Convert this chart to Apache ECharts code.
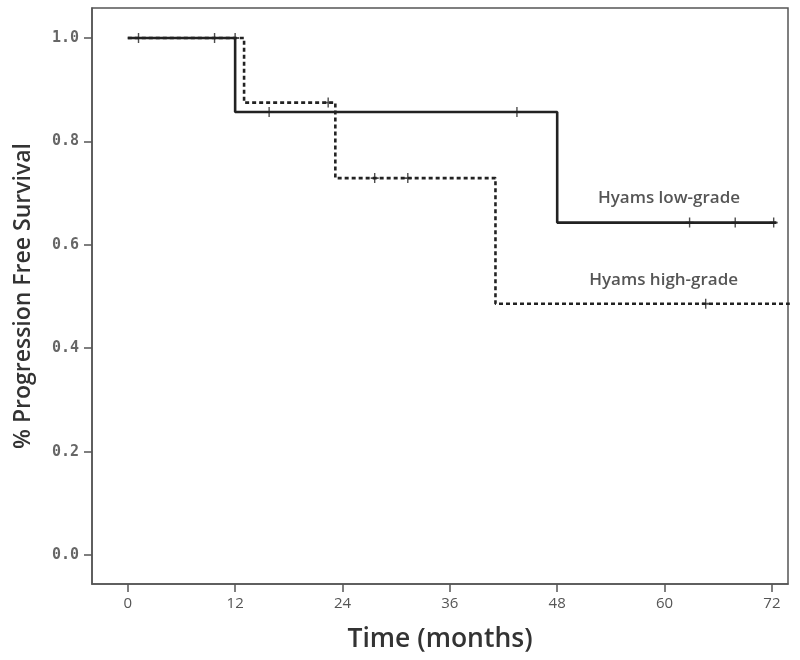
<!DOCTYPE html>
<html><head><meta charset="utf-8">
<script src="https://cdn.jsdelivr.net/npm/echarts@6/dist/echarts.min.js"></script>
<style>html,body{margin:0;padding:0;background:#fff}#c{width:800px;height:660px}</style>
</head><body><div id="c"></div>
<script>
// Kaplan-Meier steps: [month, survival]
const lowGradeSteps = [[0, 1.0], [12.0, 0.857], [48.0, 0.643], [72.5, 0.643]];
const highGradeSteps = [[0, 1.0], [13.0, 0.875], [23.2, 0.729], [41.1, 0.486], [74, 0.486]];
const lowGradeCensored = [[9.7, 1.0], [15.8, 0.857], [43.5, 0.857], [62.8, 0.643], [67.9, 0.643], [72.2, 0.643]];
const highGradeCensored = [[1.2, 1.0], [12.0, 1.0], [22.4, 0.875], [27.6, 0.729], [31.3, 0.729], [64.6, 0.486]];
const xTicks = [0, 12, 24, 36, 48, 60, 72];
const yTicks = [0, 0.2, 0.4, 0.6, 0.8, 1.0];
const seriesLabels = [
  { name: 'Hyams low-grade', pos: [60.5, 0.69] },
  { name: 'Hyams high-grade', pos: [59.9, 0.532] }
];

const chart = echarts.init(document.getElementById('c'), null, { renderer: 'canvas' });
const plus = 'path://M-0.7,-5L0.7,-5L0.7,-0.9L4,-0.9L4,0.9L0.7,0.9L0.7,5L-0.7,5L-0.7,0.9L-4,0.9L-4,-0.9L-0.7,-0.9Z';
chart.setOption({
  animation: false,
  backgroundColor: '#fff',
  grid: { left: 92, top: 8, right: 12, bottom: 76, show: true, borderColor: '#555', borderWidth: 1.5, backgroundColor: 'transparent', outerBoundsMode: 'none', containLabel: false },
  xAxis: {
    type: 'value', min: -4, max: 73.8,
    name: 'Time (months)', nameLocation: 'middle', nameGap: 42,
    nameTextStyle: { fontFamily: 'Open Sans', fontWeight: 600, fontSize: 26.5, color: '#333' },
    axisLine: { show: true, onZero: false, lineStyle: { color: '#555', width: 1.5 } },
    axisTick: { show: true, length: 8, customValues: xTicks, lineStyle: { color: '#555', width: 1.5 } },
    axisLabel: { customValues: xTicks, margin: 12, fontFamily: 'Open Sans', fontSize: 15, color: '#555' },
    splitLine: { show: false }
  },
  yAxis: {
    type: 'value', min: -0.056, max: 1.058,
    name: '% Progression Free Survival', nameLocation: 'middle', nameGap: 57, nameRotate: 90,
    nameTextStyle: { fontFamily: 'Open Sans', fontWeight: 600, fontSize: 23, color: '#333' },
    axisLine: { show: true, onZero: false, lineStyle: { color: '#555', width: 1.5 } },
    axisTick: { show: true, length: 8, customValues: yTicks, lineStyle: { color: '#555', width: 1.5 } },
    axisLabel: { customValues: yTicks, margin: 13, fontFamily: 'DejaVu Sans Mono', fontWeight: 'bold', fontSize: 15, color: '#666', formatter: v => v.toFixed(1) },
    splitLine: { show: false }
  },
  series: [
    { type: 'line', name: 'low', step: 'end', data: lowGradeSteps, showSymbol: false, lineStyle: { color: '#222', width: 2.6 }, z: 3 },
    { type: 'line', name: 'high', step: 'end', data: highGradeSteps, showSymbol: false, lineStyle: { color: '#222', width: 2.6, type: [4, 3] }, z: 2 },
    { type: 'scatter', data: lowGradeCensored.concat(highGradeCensored), symbol: plus, symbolSize: [8, 10], itemStyle: { color: '#222' }, z: 4 },
    { type: 'scatter', data: seriesLabels.map(l => ({ value: l.pos, name: l.name })), symbolSize: 0,
      label: { show: true, position: 'inside', formatter: p => p.name, fontFamily: 'Open Sans', fontWeight: 600, fontSize: 17, color: '#2a2a2a' } }
  ]
});
</script></body></html>
